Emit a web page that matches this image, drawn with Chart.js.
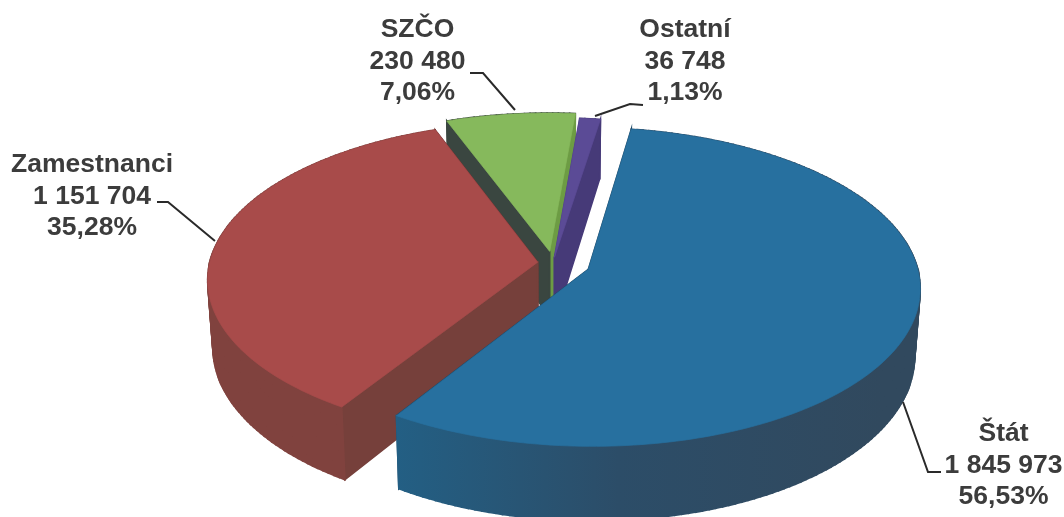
<!DOCTYPE html>
<html>
<head>
<meta charset="utf-8">
<style>
  html, body { margin: 0; background: #fff; }
  canvas { display: block; }
</style>
<script src="https://cdn.jsdelivr.net/npm/chart.js@4"></script>
</head>
<body>
<canvas id="pie" width="1064" height="517"></canvas>
<script>
const categories = ["Štát", "Zamestnanci", "SZČO", "Ostatní"]
const values = [1845973, 1151704, 230480, 36748]
const valueLabels = ["1 845 973", "1 151 704", "230 480", "36 748"]
const percentLabels = ["56,53%", "35,28%", "7,06%", "1,13%"]

// Slice styling, same order as the categories
const topColors = ["#27709f", "#a84b4a", "#86b95c", "#5b4b96"]
const wallLeft = ["#235f84", "#80423e", "#3a4640", "#463a78"]
const wallMid = ["#2c4d68", "#7a3e3b", "#3a4640", "#463a78"]
const wallRight = ["#31495e", "#7a3e3b", "#6d9c44", "#463a78"]
const cutStart = ["#1f4a68", "#76403b", "#3a4640", "#4f4088"]
const cutEnd = ["#1f4a68", "#6e3633", "#6d9c44", "#463a78"]
const explode = [28, 11.5, 18.5, 9]

// Back slices get painted first
const paintOrder = [2, 3, 1, 0]

// Label placement (first baseline) and leader lines
const labelAnchors = [[1003.5, 441], [92, 172], [417.5, 37], [685, 37]]
const leaders = [
  [[941, 472], [928, 472], [903, 402]],
  [[157, 202], [168, 202], [215, 241]],
  [[470, 73], [483, 73], [515, 110]],
  [[643, 105], [630, 104], [595, 116]]
]

// Perspective of the tilted pie
const view = { cx: 553, cy: 263, sx: 328, sy: 156, tilt: 0.11, depth: 66, taper: 0.015 }

function project(fx, fy, z) {
  const w = 1 - view.tilt * fy
  const s = 1 - view.taper * z
  return [view.cx + view.sx * fx / w * s, view.cy + view.sy * fy / w + view.depth * z / w]
}

// Outline of one arc element in flat pie coordinates (unit radius)
function outline(arc) {
  const { startAngle, endAngle, outerRadius } = arc
  const mid = (startAngle + endAngle) / 2
  const ox = Math.cos(mid) * arc.options.offset / outerRadius
  const oy = Math.sin(mid) * arc.options.offset / outerRadius
  const pts = [[ox, oy]]
  const steps = Math.max(2, Math.ceil((endAngle - startAngle) / 0.02))
  for (let i = 0; i <= steps; i++) {
    const a = startAngle + (endAngle - startAngle) * i / steps
    pts.push([ox + Math.cos(a), oy + Math.sin(a)])
  }
  return pts
}

function fillPoly(ctx, points, color, seam) {
  ctx.beginPath()
  points.forEach((p, i) => i ? ctx.lineTo(p[0], p[1]) : ctx.moveTo(p[0], p[1]))
  ctx.closePath()
  ctx.fillStyle = color
  ctx.strokeStyle = color
  ctx.lineWidth = seam
  ctx.fill()
  ctx.stroke()
}

function drawSlice(ctx, arc, i) {
  const pts = outline(arc)
  const last = pts.length - 1

  const outer = ctx.createLinearGradient(view.cx - view.sx, 0, view.cx + view.sx, 0)
  outer.addColorStop(0.26, wallLeft[i])
  outer.addColorStop(0.6, wallMid[i])
  outer.addColorStop(1, wallRight[i])

  // Side walls, the ones further back first
  const quads = pts.map((p, k) => {
    const q = pts[(k + 1) % pts.length]
    let color = outer
    if (k === 0) color = cutStart[i]
    if (k === last) color = cutEnd[i]
    return { p, q, color, key: p[1] + q[1] }
  })
  quads.sort((a, b) => a.key - b.key)
  quads.forEach(({ p, q, color }) => {
    fillPoly(ctx, [project(p[0], p[1], 0), project(q[0], q[1], 0), project(q[0], q[1], 1), project(p[0], p[1], 1)], color, 1.6)
  })

  // Top face
  fillPoly(ctx, pts.map(p => project(p[0], p[1], 0)), arc.options.backgroundColor, 0.7)
}

const tiltedPie = {
  id: "tiltedPie",
  beforeDatasetsDraw(chart) {
    const arcs = chart.getDatasetMeta(0).data
    paintOrder.forEach(i => drawSlice(chart.ctx, arcs[i], i))
    return false
  }
}

const sliceLabels = {
  id: "sliceLabels",
  afterDraw(chart) {
    const ctx = chart.ctx
    ctx.save()
    ctx.strokeStyle = "#2a2a2a"
    ctx.lineWidth = 2
    leaders.forEach(line => {
      ctx.beginPath()
      line.forEach((p, i) => i ? ctx.lineTo(p[0], p[1]) : ctx.moveTo(p[0], p[1]))
      ctx.stroke()
    })
    ctx.fillStyle = "#3c3c3c"
    ctx.font = "bold 26.5px 'Liberation Sans'"
    ctx.textAlign = "center"
    ctx.textBaseline = "alphabetic"
    categories.forEach((name, i) => {
      const [x, y] = labelAnchors[i]
      ctx.fillText(name, x, y)
      ctx.fillText(valueLabels[i], x, y + 31.7)
      ctx.fillText(percentLabels[i], x, y + 63.4)
    })
    ctx.restore()
  }
}

new Chart(document.getElementById("pie"), {
  type: "pie",
  data: {
    labels: categories,
    datasets: [{
      data: values,
      backgroundColor: topColors,
      offset: explode,
      borderWidth: 0
    }]
  },
  options: {
    responsive: false,
    animation: false,
    rotation: 9,
    plugins: {
      legend: { display: false },
      tooltip: { enabled: false }
    }
  },
  plugins: [tiltedPie, sliceLabels]
})
</script>
</body>
</html>
